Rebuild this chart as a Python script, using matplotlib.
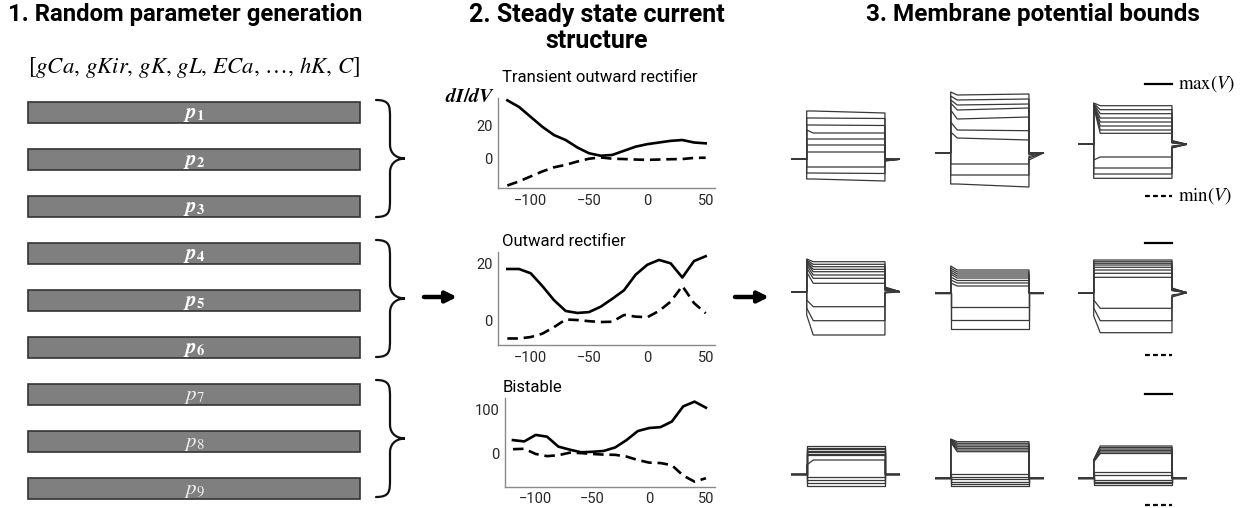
"""
Pipeline schematic: random parameters -> steady state dI/dV -> membrane potential bounds
"""

import matplotlib.pyplot as plt
from matplotlib.patches import Rectangle, PathPatch
from matplotlib.path import Path

plt.rcParams['font.family'] = ['Roboto', 'DejaVu Sans']
plt.rcParams['mathtext.fontset'] = 'stix'

W, H = 1245, 508

# ---------------- data ----------------
param_names = ['gCa', 'gKir', 'gK', 'gL', 'ECa', r'\ldots', 'hK', 'C']
bar_ids = [1, 2, 3, 4, 5, 6, 7, 8, 9]
bar_bold = [True, True, True, True, True, True, False, False, False]

# steady state dI/dV vs holding voltage (mV)
vm = [-120, -110, -100, -90, -80, -70, -60, -50, -40, -30, -20, -10, 0, 10, 20, 30, 40, 50]
tor_solid = [35, 31, 25, 19, 14, 11, 6.5, 3, 1.5, 2, 4.5, 7, 8.5, 9.5, 10.5, 11, 9.5, 9]
tor_dashed = [-16.5, -14, -11, -8, -5.5, -4, -2, -0.3, 0.5, -0.3, -0.5, -0.8, -1, -0.8, -0.6, -0.5, 0.2, 0.3]
or_solid = [18, 18, 16.5, 12, 7, 3.2, 2.5, 2.8, 4.7, 7.5, 10.5, 16, 19.5, 21.2, 20, 15, 20.8, 22.5]
or_dashed = [-6.5, -6.5, -6, -4.8, -2.5, 0.2, 0, -0.4, -0.7, -0.6, 1.8, 1.2, 1.0, 3.2, 6.5, 12, 6, 2.4]
bi_solid = [30, 27, 42, 38, 15, 8, 2, 3, 5, 13, 30, 51, 58, 60, 73, 108, 119, 105]
bi_dashed = [9, 10, -2, -7, -5, 1, 0, -2, -3.5, -4, -8, -16, -22, -23, -28, -52, -66, -58]

# current-step voltage traces (mV): rest, plateau start / end, onset value, post-step value
r1c1_rest = -89.3
r1c1_start = [-41, -48, -55, -63, -69, -75, -82, -97, -103, -109]
r1c1_end = [-43, -48.5, -55.5, -63, -69, -75, -82, -97, -103.5, -111]
r1c1_onset = [-41, -48, -55, -60, -69, -75, -82, -97, -103, -109]
r1c1_tail = [-88.5, -88.8, -89, -89.3, -89.6, -89.9, -90.2, -90.5, -90.8, -91]

r1c2_rest = -82.7
r1c2_start = [-25, -30, -35, -40, -49, -60, -68, -94, -105, -114]
r1c2_end = [-24, -29, -34, -38, -47, -60.7, -70, -94, -105, -117]
r1c2_onset = [-22, -26, -30, -33, -40, -52, -62, -94, -105, -114]
r1c2_tail = [-83, -83, -83, -83, -83, -84, -85, -86.5, -88, -90]

r1c3_rest = -74.3
r1c3_start = [-35.7, -39.7, -43.7, -48, -52, -56, -60, -63.3, -87, -98, -104, -108.3]
r1c3_onset = [-33, -33.5, -34, -34.5, -35, -35.5, -36, -36.5, -90, -98, -104, -108.3]
r1c3_tail = [-70.5, -71, -71.5, -72, -72, -72.5, -72.5, -73, -76, -77, -77.5, -78]

r2c1_rest = -71.7
r2c1_start = [-41.7, -44.3, -46.7, -49.3, -51.7, -55, -58.3, -63.3, -86.7, -100.7, -115]
r2c1_onset = [-39, -40, -41, -42, -43, -45, -48, -52, -80, -88, -95]
r2c1_tail = [-67, -67.5, -68, -68.5, -69, -69.5, -70, -70.5, -72, -72.5, -73]

r2c2_rest = -72.7
r2c2_start = [-50, -52, -54, -56, -58, -60.5, -63, -66, -86.7, -100, -109.3]
r2c2_onset = [-46, -48, -50, -52, -54, -57, -60, -63, -86.7, -100, -109.3]

r2c3_rest = -72.7
r2c3_start = [-40, -41.7, -43.3, -45, -47.3, -50, -53.3, -57.3, -88.3, -100.7, -112.7]
r2c3_onset = [-40, -41.7, -43.3, -45, -47.3, -50, -53.3, -57.3, -80, -88, -96]
r2c3_tail = [-68, -68.5, -69, -69.5, -70, -70, -70.5, -70.5, -75, -76, -77]

r3c1_rest = -89.3
r3c1_start = [-61, -62.5, -64, -65.5, -67, -68.5, -70, -75, -92.3, -95, -97.7, -101]
r3c1_onset = [-61, -62.5, -64, -65.5, -67, -68.5, -70, -80, -92.3, -95, -97.7, -101]

r3c2_rest = -93.3
r3c2_start = [-56.7, -58.3, -60, -61.7, -63.3, -65, -66.7, -89.3, -91.7, -94.3, -96.7, -99, -101]
r3c2_onset = [-54, -54.5, -55, -55.5, -56, -56.5, -57, -89.3, -91.7, -94.3, -96.7, -99, -101]

r3c3_rest = -93.3
r3c3_start = [-61, -62.5, -64, -65.5, -67, -68.5, -86.7, -90, -95, -96.7, -98.3, -100]
r3c3_onset = [-75, -75, -75, -76, -76, -77, -86.7, -90, -95, -96.7, -98.3, -100]

# ---------------- layout helpers ----------------
T_ON, T_OFF, T_SET = 0.144, 0.862, 0.06
TRACE_COLOR = '#383838'

fig = plt.figure(figsize=(W / 100, H / 100), dpi=100)


def px_axes(x, y, w, h):
    """Axes placed with a pixel box measured from the top-left corner"""
    return fig.add_axes([x / W, 1 - (y + h) / H, w / W, h / H])


ax0 = px_axes(0, 0, W, H)
ax0.set_xlim(0, W)
ax0.set_ylim(H, 0)
ax0.axis('off')


def brace(ax, x0, top, bot, xm, xt):
    mid = (top + bot) / 2
    verts = [(x0, top),
             (xm, top), (xm, top + 6), (xm, top + 18),
             (xm, mid - 14),
             (xm, mid - 3), (xt - 6, mid), (xt, mid),
             (xt - 6, mid), (xm, mid + 3), (xm, mid + 14),
             (xm, bot - 18),
             (xm, bot - 6), (xm, bot), (x0, bot)]
    codes = [Path.MOVETO,
             Path.CURVE4, Path.CURVE4, Path.CURVE4,
             Path.LINETO,
             Path.CURVE4, Path.CURVE4, Path.CURVE4,
             Path.CURVE4, Path.CURVE4, Path.CURVE4,
             Path.LINETO,
             Path.CURVE4, Path.CURVE4, Path.CURVE4]
    ax.add_patch(PathPatch(Path(verts, codes), fill=False, lw=1.6, color='#111', capstyle='round'))


def arrow(ax, x0, x1, y):
    ax.annotate('', xy=(x1, y), xytext=(x0, y),
                arrowprops=dict(arrowstyle='-|>', lw=3.2, color='k', mutation_scale=16,
                                shrinkA=0, shrinkB=0))


def ss_panel(box, xlim, ylim, yticks, solid, dashed):
    ax = px_axes(*box)
    ax.plot(vm, solid, color='k', lw=1.9)
    ax.plot(vm, dashed, color='k', lw=1.9, ls=(0, (4, 2.2)))
    ax.set_xlim(xlim)
    ax.set_ylim(ylim)
    ax.set_xticks([-100, -50, 0, 50])
    ax.set_yticks(yticks)
    for s in ['top', 'right']:
        ax.spines[s].set_visible(False)
    for s in ['left', 'bottom']:
        ax.spines[s].set_color('#8a8a8a')
        ax.spines[s].set_linewidth(1.0)
    ax.tick_params(length=0, labelsize=10.5, pad=4, labelcolor='#262626')
    ax.patch.set_alpha(0)
    return ax


def trace_panel(x, row_box, ylim, rest, start, end=None, onset=None, tail=None):
    ax = px_axes(x, row_box[0], 109, row_box[1] - row_box[0])
    ax.set_xlim(0, 1)
    ax.set_ylim(ylim)
    ax.axis('off')
    n = len(start)
    end = start if end is None else end
    onset = start if onset is None else onset
    tail = [rest] * n if tail is None else tail
    for k in range(n):
        t = [0, T_ON, T_ON, T_ON + T_SET, T_OFF, T_OFF, 1]
        v = [rest, rest, onset[k], start[k], end[k], tail[k], rest]
        ax.plot(t, v, color=TRACE_COLOR, lw=0.9, solid_joinstyle='round')
    return ax


# ---------------- panel 1: parameters ----------------
ax0.text(8, 15, '1. Random parameter generation', ha='left', va='center',
         fontsize=17.2, fontweight='bold')
ax0.text(28, 67, '$[' + r',\,'.join(param_names) + ']$', ha='left', va='center', fontsize=16.4)

for i, pid in enumerate(bar_ids):
    yc = 112.5 + 47 * i
    ax0.add_patch(Rectangle((28, yc - 10.5), 332, 21, facecolor='#7f7f7f',
                            edgecolor='#333333', lw=1.2))
    if bar_bold[i]:
        lab = r'$\boldsymbol{p}_{\mathbf{%d}}$' % pid
        ax0.text(194, yc + 2, lab, ha='center', va='center', fontsize=15, color='white')
    else:
        lab = r'$p_{%d}$' % pid
        ax0.text(194, yc + 2, lab, ha='center', va='center', fontsize=15, color='#f0f0f0')

for k in range(3):
    top = 100 + 140 * k
    brace(ax0, 376, top, top + 117, 390, 405)

arrow(ax0, 424, 457, 297)
arrow(ax0, 735, 769, 297)

# ---------------- panel 2: steady state ----------------
ax0.text(597, 15, '2. Steady state current', ha='center', va='center',
         fontsize=18, fontweight='bold')
ax0.text(597, 41, 'structure', ha='center', va='center', fontsize=18, fontweight='bold')

ss_panel((498, 98, 217, 90), (-128, 58), (-18, 36.4), [0, 20], tor_solid, tor_dashed)
ss_panel((498, 251.7, 217, 93.3), (-128, 58), (-8.8, 24.1), [0, 20], or_solid, or_dashed)
ss_panel((505, 398.3, 210, 88.4), (-127, 58), (-77.7, 126.7), [0, 100], bi_solid, bi_dashed)

ax0.text(502, 78, 'Transient outward rectifier', ha='left', va='center', fontsize=12)
ax0.text(502, 241, 'Outward rectifier', ha='left', va='center', fontsize=12)
ax0.text(503, 388, 'Bistable', ha='left', va='center', fontsize=12)
ax0.text(495, 97, r'$\boldsymbol{dI/dV}$', ha='right', va='center', fontsize=14.5)

# ---------------- panel 3: membrane potential ----------------
ax0.text(866, 15, '3. Membrane potential bounds', ha='left', va='center',
         fontsize=17.5, fontweight='bold')

row1, row2, row3 = (80, 200), (230, 350), (385, 505)
lim12, lim3 = (-130, -10), (-120, 0)
cols = [791, 935, 1078]

trace_panel(cols[0], row1, lim12, r1c1_rest, r1c1_start, r1c1_end, r1c1_onset, r1c1_tail)
trace_panel(cols[1], row1, lim12, r1c2_rest, r1c2_start, r1c2_end, r1c2_onset, r1c2_tail)
trace_panel(cols[2], row1, lim12, r1c3_rest, r1c3_start, None, r1c3_onset, r1c3_tail)
trace_panel(cols[0], row2, lim12, r2c1_rest, r2c1_start, None, r2c1_onset, r2c1_tail)
trace_panel(cols[1], row2, lim12, r2c2_rest, r2c2_start, None, r2c2_onset)
trace_panel(cols[2], row2, lim12, r2c3_rest, r2c3_start, None, r2c3_onset, r2c3_tail)
trace_panel(cols[0], row3, lim3, r3c1_rest, r3c1_start, None, r3c1_onset)
trace_panel(cols[1], row3, lim3, r3c2_rest, r3c2_start, None, r3c2_onset)
trace_panel(cols[2], row3, lim3, r3c3_rest, r3c3_start, None, r3c3_onset)

# max / min legend marks
for ymax, ymin in [(84, 196), (243, 355), (394, 505)]:
    ax0.plot([1145, 1172], [ymax, ymax], color='k', lw=1.6)
    ax0.plot([1145, 1172], [ymin, ymin], color='k', lw=1.6, ls=(0, (2.2, 1.4)))
ax0.text(1178, 84, r'$\mathrm{max}(V)$', ha='left', va='center', fontsize=13.5)
ax0.text(1178, 196, r'$\mathrm{min}(V)$', ha='left', va='center', fontsize=13.5)

fig.savefig('out.png', dpi=100)
